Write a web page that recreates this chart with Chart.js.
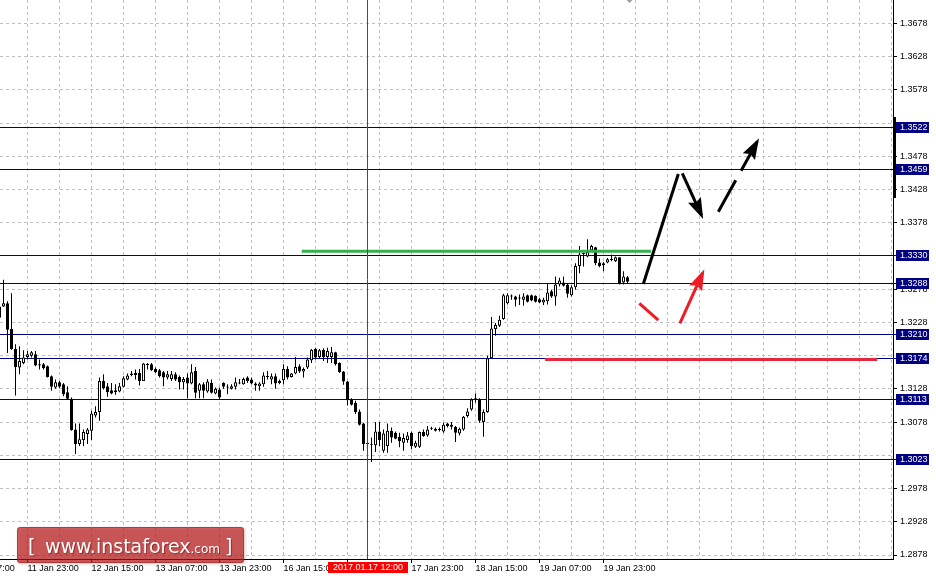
<!DOCTYPE html>
<html>
<head>
<meta charset="utf-8">
<title>GBPUSD H1</title>
<script src="https://cdn.jsdelivr.net/npm/chart.js@4.4.0/dist/chart.umd.min.js"></script>
<style>
  html, body { margin: 0; padding: 0; background: #fff; }
  #wrap { position: relative; width: 936px; height: 578px; }
</style>
</head>
<body>
<div id="wrap"><canvas id="chart"></canvas></div>
<script>
// H1 bars, bar 0 = 11 Jan 17:00
const firstBar = -1;
const opens = [1.3252,
  1.3252, 1.3257, 1.3218, 1.3188, 1.3160, 1.3167, 1.3176, 1.3178, 1.3180, 1.3165,
  1.3165, 1.3162, 1.3147, 1.3130, 1.3138, 1.3135, 1.3123, 1.3113, 1.3067, 1.3045,
  1.3051, 1.3060, 1.3065, 1.3088, 1.3093, 1.3140, 1.3132, 1.3126, 1.3126, 1.3124,
  1.3131, 1.3142, 1.3149, 1.3152, 1.3152, 1.3140, 1.3164, 1.3165, 1.3158, 1.3156,
  1.3153, 1.3145, 1.3143, 1.3150, 1.3146, 1.3138, 1.3145, 1.3136, 1.3155, 1.3125,
  1.3135, 1.3124, 1.3137, 1.3121, 1.3127, 1.3137, 1.3131, 1.3128, 1.3131, 1.3136,
  1.3135, 1.3145, 1.3142, 1.3136, 1.3132, 1.3135, 1.3146, 1.3142, 1.3147, 1.3137,
  1.3141, 1.3158, 1.3146, 1.3151, 1.3162, 1.3154, 1.3160, 1.3171, 1.3188, 1.3176,
  1.3187, 1.3176, 1.3176, 1.3183, 1.3167, 1.3154, 1.3139, 1.3112, 1.3107, 1.3094,
  1.3076, 1.3047, 1.3045, 1.3043, 1.3064, 1.3035, 1.3042, 1.3065, 1.3062, 1.3056,
  1.3047, 1.3051, 1.3062, 1.3041, 1.3041, 1.3063, 1.3058, 1.3068, 1.3068, 1.3067,
  1.3064, 1.3076, 1.3071, 1.3071, 1.3061, 1.3067, 1.3087, 1.3097, 1.3112, 1.3112,
  1.3078, 1.3093, 1.3174, 1.3218, 1.3223, 1.3233, 1.3257, 1.3267, 1.3267, 1.3265,
  1.3262, 1.3269, 1.3269, 1.3268, 1.3263, 1.3258, 1.3260, 1.3275, 1.3267, 1.3285,
  1.3288, 1.3285, 1.3269, 1.3281, 1.3313, 1.3331, 1.3327, 1.3336, 1.3341, 1.3318,
  1.3314, 1.3318, 1.3323, 1.3320, 1.3326, 1.3288, 1.3296];
const highs = [1.3257,
  1.3292, 1.3260, 1.3272, 1.3195, 1.3192, 1.3186, 1.3185, 1.3185, 1.3185, 1.3172,
  1.3167, 1.3163, 1.3148, 1.3142, 1.3140, 1.3137, 1.3132, 1.3115, 1.3076, 1.3076,
  1.3067, 1.3069, 1.3095, 1.3102, 1.3145, 1.3150, 1.3137, 1.3137, 1.3135, 1.3137,
  1.3147, 1.3151, 1.3155, 1.3157, 1.3158, 1.3167, 1.3167, 1.3167, 1.3160, 1.3158,
  1.3155, 1.3155, 1.3155, 1.3153, 1.3148, 1.3146, 1.3151, 1.3165, 1.3161, 1.3137,
  1.3138, 1.3143, 1.3142, 1.3130, 1.3130, 1.3138, 1.3135, 1.3135, 1.3145, 1.3143,
  1.3145, 1.3147, 1.3145, 1.3138, 1.3138, 1.3153, 1.3155, 1.3151, 1.3151, 1.3142,
  1.3165, 1.3162, 1.3152, 1.3176, 1.3165, 1.3160, 1.3175, 1.3188, 1.3190, 1.3188,
  1.3189, 1.3190, 1.3191, 1.3184, 1.3168, 1.3155, 1.3140, 1.3114, 1.3110, 1.3097,
  1.3077, 1.3052, 1.3055, 1.3078, 1.3078, 1.3067, 1.3076, 1.3070, 1.3064, 1.3062,
  1.3061, 1.3063, 1.3064, 1.3050, 1.3064, 1.3067, 1.3072, 1.3071, 1.3070, 1.3070,
  1.3077, 1.3077, 1.3078, 1.3072, 1.3070, 1.3087, 1.3099, 1.3114, 1.3121, 1.3114,
  1.3097, 1.3178, 1.3236, 1.3227, 1.3238, 1.3271, 1.3272, 1.3270, 1.3268, 1.3270,
  1.3272, 1.3270, 1.3270, 1.3269, 1.3265, 1.3265, 1.3287, 1.3277, 1.3297, 1.3295,
  1.3297, 1.3287, 1.3284, 1.3317, 1.3343, 1.3333, 1.3353, 1.3345, 1.3342, 1.3324,
  1.3319, 1.3325, 1.3330, 1.3327, 1.3326, 1.3305, 1.3298];
const lows = [1.3232,
  1.3251, 1.3182, 1.3187, 1.3118, 1.3150, 1.3165, 1.3172, 1.3175, 1.3162, 1.3157,
  1.3157, 1.3145, 1.3125, 1.3128, 1.3129, 1.3117, 1.3112, 1.3065, 1.3030, 1.3042,
  1.3042, 1.3045, 1.3051, 1.3085, 1.3080, 1.3127, 1.3116, 1.3120, 1.3119, 1.3123,
  1.3130, 1.3141, 1.3147, 1.3142, 1.3133, 1.3140, 1.3157, 1.3155, 1.3152, 1.3145,
  1.3132, 1.3142, 1.3140, 1.3140, 1.3127, 1.3127, 1.3114, 1.3135, 1.3114, 1.3114,
  1.3114, 1.3122, 1.3121, 1.3120, 1.3113, 1.3128, 1.3120, 1.3127, 1.3127, 1.3135,
  1.3134, 1.3137, 1.3135, 1.3125, 1.3125, 1.3131, 1.3142, 1.3135, 1.3128, 1.3135,
  1.3135, 1.3142, 1.3145, 1.3150, 1.3152, 1.3145, 1.3158, 1.3167, 1.3172, 1.3174,
  1.3170, 1.3167, 1.3167, 1.3163, 1.3152, 1.3134, 1.3103, 1.3103, 1.3090, 1.3073,
  1.3035, 1.3035, 1.3018, 1.3033, 1.3042, 1.3032, 1.3032, 1.3047, 1.3052, 1.3040,
  1.3035, 1.3047, 1.3037, 1.3039, 1.3039, 1.3056, 1.3056, 1.3066, 1.3064, 1.3064,
  1.3062, 1.3070, 1.3067, 1.3048, 1.3058, 1.3065, 1.3085, 1.3095, 1.3107, 1.3077,
  1.3056, 1.3092, 1.3174, 1.3208, 1.3221, 1.3232, 1.3255, 1.3262, 1.3252, 1.3254,
  1.3253, 1.3258, 1.3260, 1.3258, 1.3257, 1.3254, 1.3255, 1.3265, 1.3253, 1.3282,
  1.3282, 1.3265, 1.3267, 1.3277, 1.3302, 1.3312, 1.3326, 1.3334, 1.3314, 1.3311,
  1.3305, 1.3317, 1.3320, 1.3319, 1.3285, 1.3285, 1.3287];
const closes = [1.3235,
  1.3257, 1.3217, 1.3188, 1.3161, 1.3170, 1.3175, 1.3180, 1.3183, 1.3163, 1.3163,
  1.3159, 1.3146, 1.3131, 1.3138, 1.3131, 1.3120, 1.3113, 1.3066, 1.3045, 1.3052,
  1.3063, 1.3067, 1.3091, 1.3093, 1.3140, 1.3129, 1.3123, 1.3121, 1.3123, 1.3132,
  1.3144, 1.3148, 1.3151, 1.3149, 1.3140, 1.3166, 1.3165, 1.3156, 1.3153, 1.3147,
  1.3145, 1.3150, 1.3150, 1.3142, 1.3138, 1.3143, 1.3136, 1.3153, 1.3122, 1.3135,
  1.3125, 1.3139, 1.3122, 1.3128, 1.3115, 1.3131, 1.3130, 1.3132, 1.3138, 1.3137,
  1.3143, 1.3140, 1.3136, 1.3133, 1.3136, 1.3148, 1.3147, 1.3147, 1.3136, 1.3140,
  1.3158, 1.3145, 1.3151, 1.3161, 1.3154, 1.3158, 1.3172, 1.3187, 1.3175, 1.3186,
  1.3176, 1.3185, 1.3183, 1.3165, 1.3153, 1.3139, 1.3111, 1.3104, 1.3093, 1.3074,
  1.3045, 1.3045, 1.3044, 1.3064, 1.3051, 1.3061, 1.3065, 1.3055, 1.3053, 1.3049,
  1.3054, 1.3058, 1.3042, 1.3047, 1.3063, 1.3057, 1.3067, 1.3069, 1.3065, 1.3066,
  1.3074, 1.3072, 1.3074, 1.3062, 1.3068, 1.3086, 1.3094, 1.3112, 1.3114, 1.3080,
  1.3093, 1.3174, 1.3219, 1.3224, 1.3232, 1.3269, 1.3269, 1.3268, 1.3262, 1.3264,
  1.3267, 1.3259, 1.3261, 1.3259, 1.3258, 1.3262, 1.3273, 1.3267, 1.3285, 1.3291,
  1.3283, 1.3271, 1.3281, 1.3313, 1.3330, 1.3332, 1.3334, 1.3343, 1.3317, 1.3313,
  1.3317, 1.3323, 1.3322, 1.3326, 1.3287, 1.3297, 1.3289];

// time axis labels (bar number -> label)
const xTickBars = [-10, 6, 22, 38, 54, 70, 86, 102, 118, 134, 150];
const xTickLabels = ['11 Jan 07:00', '11 Jan 23:00', '12 Jan 15:00', '13 Jan 07:00', '13 Jan 23:00',
  '16 Jan 15:00', '17 Jan 07:00', '17 Jan 23:00', '18 Jan 15:00', '19 Jan 07:00', '19 Jan 23:00'];
const yTicks = [1.2878, 1.2928, 1.2978, 1.3028, 1.3078, 1.3128, 1.3178, 1.3228, 1.3278,
  1.3328, 1.3378, 1.3428, 1.3478, 1.3528, 1.3578, 1.3628, 1.3678];

// horizontal levels with their price labels
const levels = [1.3522, 1.3459, 1.3330, 1.3288, 1.3210, 1.3174, 1.3113, 1.3023];

// crosshair
const cursorBar = 91;
const cursorLabel = '2017.01.17 12:00';

// drawn objects: [bar, price] pairs
const greenLevel = [[74.55, 1.3335], [161.9, 1.3335]];
const redLevel = [[135.4, 1.3172], [218.4, 1.3172]];
const blackUp = [[159.95, 1.32857], [168.7, 1.34512]];
const blackDown = [[169.7, 1.34523], [174.5, 1.33890]];
const blackDashed = [[178.7, 1.33945], [188.4, 1.34997]];
const redDip = [[158.95, 1.32567], [163.7, 1.32316]];
const redUp = [[169.1, 1.32266], [174.8, 1.33024]];

const FONT = '"Liberation Sans", Arial, sans-serif';
Chart.defaults.font.family = FONT;
Chart.defaults.font.size = 9;
Chart.defaults.color = '#000';

const bars = opens.map((o, k) => firstBar + k);
const xGrid = [];
for (let b = -10; b <= 222; b += 8) xGrid.push(b);

function yHidden(v) {
    return levels.some(l => Math.abs(l - v) < 0.0008);
}

function pts(arr) {
    return arr.map(p => ({ x: p[0], y: p[1] }));
}

function lineSet(arr, color, extra) {
    return Object.assign({
        type: 'line',
        data: pts(arr),
        borderColor: color,
        backgroundColor: color,
        borderWidth: 3,
        pointRadius: 0,
        fill: false,
        tension: 0,
        borderCapStyle: 'butt',
        order: 1
    }, extra || {});
}

const mt4Plugin = {
    id: 'mt4',
    beforeDatasetsDraw(chart) {
        const { ctx, chartArea, scales } = chart;
        ctx.save();
        ctx.strokeStyle = '#000080';
        ctx.lineWidth = 1;
        levels.forEach(v => {
            const y = Math.round(scales.y.getPixelForValue(v)) + 0.5;
            ctx.beginPath();
            ctx.moveTo(chartArea.left, y);
            ctx.lineTo(chartArea.right + 3, y);
            ctx.stroke();
        });
        ctx.restore();
    },
    afterDatasetsDraw(chart) {
        const { ctx, chartArea, scales } = chart;
        ctx.save();
        // arrow heads
        chart.data.datasets.forEach((ds, di) => {
            if (!ds.arrowHead) return;
            const p = chart.getDatasetMeta(di).data;
            const a = p[p.length - 2], b = p[p.length - 1];
            const ang = Math.atan2(b.y - a.y, b.x - a.x);
            const c = Math.cos(ang), s = Math.sin(ang);
            const tx = b.x + 4 * c, ty = b.y + 4 * s;
            const len = 21, half = 7;
            ctx.fillStyle = ds.borderColor;
            ctx.beginPath();
            ctx.moveTo(tx, ty);
            ctx.lineTo(tx - len * c + half * s, ty - len * s - half * c);
            ctx.lineTo(tx - len * c * 0.85, ty - len * s * 0.85);
            ctx.lineTo(tx - len * c - half * s, ty - len * s + half * c);
            ctx.closePath();
            ctx.fill();
        });
        // crosshair
        const cx = Math.round(scales.x.getPixelForValue(cursorBar) - 0.5) + 0.5;
        ctx.strokeStyle = '#ff0000';
        ctx.lineWidth = 1;
        ctx.beginPath();
        ctx.moveTo(cx, chartArea.top);
        ctx.lineTo(cx, chartArea.bottom);
        ctx.stroke();
        ctx.restore();
    },
    afterDraw(chart) {
        const { ctx, chartArea, scales } = chart;
        ctx.save();
        ctx.font = '9px ' + FONT;
        ctx.textBaseline = 'middle';
        // level price boxes on the axis
        levels.forEach(v => {
            const y = Math.round(scales.y.getPixelForValue(v));
            ctx.fillStyle = '#000080';
            ctx.fillRect(chartArea.right + 3, y - 5, 33, 11);
            ctx.fillStyle = '#fff';
            ctx.textAlign = 'left';
            ctx.fillText(v.toFixed(4), chartArea.right + 7, y + 0.5);
        });
        // black marker on the price axis
        ctx.fillStyle = '#000';
        ctx.fillRect(chartArea.right, 117, 3, 81);

        // crosshair time box
        const cx = scales.x.getPixelForValue(cursorBar);
        ctx.fillStyle = '#ff0000';
        ctx.fillRect(Math.round(cx) - 40, chartArea.bottom + 3, 80, 11);
        ctx.fillStyle = '#fff';
        ctx.textAlign = 'center';
        ctx.fillText(cursorLabel, Math.round(cx), chartArea.bottom + 9);

        // chart shift marker
        const sx = scales.x.getPixelForValue(bars[bars.length - 1] + 0.5);
        ctx.fillStyle = '#a0a0a0';
        ctx.beginPath();
        ctx.moveTo(sx - 3, 0);
        ctx.lineTo(sx + 3, 0);
        ctx.lineTo(sx, 3);
        ctx.closePath();
        ctx.fill();

        // watermark
        ctx.shadowColor = 'rgba(0,0,0,0.35)';
        ctx.shadowBlur = 3;
        ctx.shadowOffsetX = 1;
        ctx.shadowOffsetY = 1;
        ctx.fillStyle = 'rgba(200,20,20,0.64)';
        ctx.beginPath();
        ctx.roundRect(17, 527, 227, 36, 3);
        ctx.fill();
        ctx.shadowColor = 'transparent';
        ctx.strokeStyle = 'rgba(170,40,40,0.7)';
        ctx.lineWidth = 1;
        ctx.beginPath();
        ctx.roundRect(17.5, 527.5, 226, 35, 3);
        ctx.stroke();
        ctx.shadowColor = 'rgba(80,0,0,0.5)';
        ctx.shadowBlur = 1;
        ctx.shadowOffsetX = 1;
        ctx.shadowOffsetY = 1;
        ctx.fillStyle = '#fff';
        ctx.textAlign = 'left';
        ctx.textBaseline = 'alphabetic';
        ctx.font = '19px "DejaVu Sans", sans-serif';
        ctx.fillText('[', 28, 553);
        ctx.fillText('www.instaforex', 45, 553);
        const w = ctx.measureText('www.instaforex').width;
        ctx.font = '12px "DejaVu Sans", sans-serif';
        ctx.fillText('.com', 45 + w, 553);
        ctx.font = '19px "DejaVu Sans", sans-serif';
        ctx.fillText(']', 225, 553);
        ctx.restore();
    }
};

new Chart(document.getElementById('chart'), {
    type: 'bar',
    data: {
        datasets: [
            {
                // wicks
                data: bars.map((b, k) => ({ x: b, y: [lows[k], highs[k]] })),
                backgroundColor: '#000',
                barThickness: 1,
                grouped: false,
                inflateAmount: 0,
                borderSkipped: false,
                minBarLength: 1,
                order: 3
            },
            {
                // bodies
                data: bars.map((b, k) => ({ x: b, y: [opens[k], closes[k]] })),
                backgroundColor: bars.map((b, k) => closes[k] >= opens[k] ? '#fff' : '#000'),
                borderColor: '#000',
                borderWidth: 1,
                borderSkipped: false,
                barThickness: 3,
                grouped: false,
                inflateAmount: 0,
                minBarLength: 1,
                order: 2
            },
            lineSet(greenLevel, '#32b14e'),
            lineSet(redLevel, '#e6283c'),
            lineSet(blackUp, '#000'),
            lineSet(blackDown, '#000', { arrowHead: true }),
            lineSet(blackDashed, '#000', { arrowHead: true, borderDash: [36, 11] }),
            lineSet(redDip, '#ee1c25'),
            lineSet(redUp, '#ee1c25', { arrowHead: true })
        ]
    },
    options: {
        responsive: true,
        maintainAspectRatio: false,
        animation: false,
        devicePixelRatio: 1,
        events: [],
        layout: { padding: 0 },
        plugins: {
            legend: { display: false },
            tooltip: { enabled: false }
        },
        scales: {
            x: {
                type: 'linear',
                position: 'bottom',
                min: -0.875,
                max: 222.375,
                offset: false,
                bounds: 'data',
                grid: {
                    offset: false,
                    color: '#c0c0c0',
                    lineWidth: 1,
                    tickLength: 4,
                    tickWidth: 1,
                    tickBorderDash: [],
                    tickColor: c => xTickBars.includes(c.tick && c.tick.value) ? '#000' : 'rgba(0,0,0,0)'
                },
                border: { display: true, color: '#000', width: 1, dash: [3, 3] },
                ticks: {
                    autoSkip: false,
                    maxRotation: 0,
                    minRotation: 0,
                    align: 'start',
                    padding: 0,
                    color: '#000',
                    font: { size: 9 },
                    callback: v => {
                        const k = xTickBars.indexOf(v);
                        return k >= 0 ? xTickLabels[k] : '';
                    }
                },
                afterBuildTicks: s => { s.ticks = xGrid.map(v => ({ value: v })); },
                afterFit: s => {
                    s.height = 19;
                    s.paddingLeft = 0; s.paddingRight = 0;
                    s.paddingTop = 0; s.paddingBottom = 0;
                }
            },
            y: {
                type: 'linear',
                position: 'right',
                min: 1.28720,
                max: 1.37131,
                bounds: 'data',
                grid: {
                    color: '#c0c0c0',
                    lineWidth: 1,
                    tickLength: 4,
                    tickWidth: 1,
                    tickBorderDash: [],
                    tickColor: c => (c.tick && yHidden(c.tick.value)) ? 'rgba(0,0,0,0)' : '#000'
                },
                border: { display: true, color: '#000', width: 1, dash: [3, 3] },
                ticks: {
                    padding: 3,
                    color: '#000',
                    font: { size: 9 },
                    callback: v => yHidden(v) ? '' : v.toFixed(4)
                },
                afterBuildTicks: s => { s.ticks = yTicks.map(v => ({ value: v })); },
                afterFit: s => {
                    s.width = 43;
                    s.paddingLeft = 0; s.paddingRight = 0;
                    s.paddingTop = 0; s.paddingBottom = 0;
                }
            }
        }
    },
    plugins: [mt4Plugin]
});
</script>
</body>
</html>
